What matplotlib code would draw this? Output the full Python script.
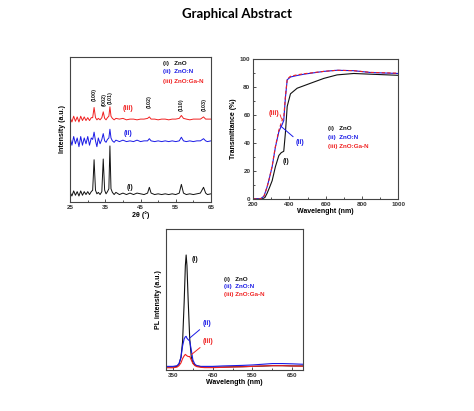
import matplotlib
matplotlib.use('Agg')
import matplotlib.pyplot as plt
from matplotlib.ticker import MultipleLocator

# XRD patterns (2theta, arbitrary offset intensity)
xrd_tt = [25, 25.5, 26, 26.5, 27, 27.5, 28, 28.5, 29, 29.5, 30, 30.5, 31,
          31.4, 31.8, 32.2, 32.6, 33,
          33.5, 34, 34.4, 34.8, 35.2, 35.6, 36, 36.3, 36.6, 37, 37.5, 38,
          39, 40, 41, 42, 43, 44, 45, 46, 47,
          47.5, 48,
          49, 50, 51, 52, 53, 54, 55, 56,
          56.6, 57.2,
          58, 59, 60, 61, 62,
          62.9, 63.5, 64, 65]
xrd_zno = [6.5, 4, 7.5, 4.5, 7, 4, 7.5, 4.5, 7, 5, 7, 5, 7,
           8, 29, 8, 5.5, 6.5,
           5, 7, 29.5, 8, 5.5, 7, 9, 38.5, 9, 6.5, 5, 6.5,
           5, 6, 5, 6, 5, 6, 5.5, 5, 6,
           10, 6,
           5, 5.5, 5, 5.5, 5, 5.5, 5, 6,
           12, 6,
           5, 5.5, 5, 5.5, 6,
           10, 6, 5, 5.5]
xrd_zno_n = [44, 39, 45, 40, 44, 38, 45, 39, 44, 40, 45, 39, 44,
             43, 48, 42, 38, 44,
             40, 43, 47, 42, 41, 43, 44, 50, 44, 42, 41, 42.5,
             41.5, 42.5, 41.5, 42, 41.5, 42.5, 41.5, 42, 42,
             43.5, 42,
             41.5, 42, 41.5, 42, 41.5, 42, 41.5, 42,
             44.5, 42,
             41.5, 42, 41.5, 42, 42,
             43.5, 42, 41.5, 42]
xrd_zno_gan = [58, 55, 59, 55.5, 58.5, 55, 59, 56, 58.5, 56, 58, 56, 58,
               58, 65, 58, 56.5, 57.5,
               56.5, 58, 62, 57.5, 56.5, 58, 59, 65.5, 59, 57.5, 56.5, 57.5,
               57, 57.5, 56.5, 57, 57, 56.5, 57, 57, 57.5,
               58.5, 57,
               57, 56.5, 57, 57, 56.5, 57, 57, 57.5,
               59.5, 57.5,
               57, 56.5, 57, 57, 57,
               58.5, 57, 57, 57]
hkl_labels = ['(100)', '(002)', '(101)', '(102)', '(110)', '(103)']
hkl_tt = [31.8, 34.6, 36.5, 47.5, 56.7, 63.0]
hkl_y = [74, 70.5, 72, 69, 67, 67]

# transmittance spectra
tr_wl_zno = [200, 250, 265, 277, 290, 305, 323, 342, 355, 369, 378, 388,
             406, 443, 516, 590, 663, 755, 847, 1000]
tr_zno = [0, 0, 1, 4, 8, 13, 23, 31, 33, 34, 47, 66,
          75, 79, 82.5, 86, 88.5, 89.5, 89, 88.2]
tr_wl = [200, 240, 260, 277, 290, 305, 323, 342, 352, 360, 369, 378, 388,
         406, 440, 480, 590, 663, 755, 847, 1000]
tr_zno_n = [0, 0, 2, 8.5, 15, 23, 37, 48, 51, 53, 56, 72, 85,
            87, 88, 89, 91, 91.8, 91.5, 90.2, 89.5]
tr_zno_gan = [0, 0, 2, 8.5, 15, 23.5, 37.5, 49, 53, 56, 58, 73, 85.5,
              87.5, 88.5, 89.3, 91, 91.8, 91.5, 90.3, 89.7]

# PL spectra
pl_wl = [332, 350, 360, 365, 370, 374, 378, 381, 383, 385, 388, 392, 396,
         400, 405, 410, 420, 430, 450, 475, 500, 525, 550, 575, 600, 625,
         650, 677]
pl_zno = [2, 2, 2.5, 4, 9, 20, 48, 74, 81.5, 74, 50, 22, 9,
          5, 3.5, 2.8, 2.3, 2, 2, 2, 2.2, 2.3, 2.5, 2.7, 3, 3,
          2.8, 2.8]
pl_zno_n = [2.5, 2.5, 3, 4.5, 9, 17, 22, 23.5, 23.8, 22.5, 21.5, 20.5, 14,
            7, 4, 3, 2.5, 2.5, 2.5, 2.8, 3, 3.2, 3.5, 4, 4.5, 4.5,
            4.3, 4]
pl_zno_gan = [1.5, 1.5, 2, 3, 5, 8, 10, 11, 10.5, 10, 9.5, 9.5, 7,
              4.5, 3, 2.3, 1.8, 1.6, 1.6, 1.8, 2, 2.2, 2.5, 2.8, 3, 3,
              2.8, 2.6]

legend_labels = ['(i)   ZnO', '(ii)  ZnO:N', '(iii) ZnO:Ga-N']
black = '#111111'
blue = '#1a1ae6'
red = '#f02020'
colors = [black, blue, red]

plt.rcParams['font.family'] = ['Liberation Sans', 'DejaVu Sans']
plt.rcParams['font.weight'] = 'bold'
plt.rcParams['axes.labelweight'] = 'bold'
plt.rcParams['axes.edgecolor'] = '#444444'
plt.rcParams['axes.linewidth'] = 0.8


def style(ax):
    ax.tick_params(which='both', direction='in', labelsize=4.5, width=0.6,
                   colors='#333333', pad=2)
    ax.tick_params(which='major', length=2.2)
    ax.tick_params(which='minor', length=1.2)


def legend_text(ax, x, ys):
    for lab, y, c in zip(legend_labels, ys, colors):
        ax.text(x, y, lab, color=c, fontsize=4.5, va='center')


fig = plt.figure(figsize=(4.74, 4.11), dpi=100)
fig.text(0.5, 0.965, 'Graphical Abstract', ha='center', va='center',
         fontsize=9.5, fontweight='bold', family='Lato')

# XRD
ax1 = fig.add_axes([0.148, 0.509, 0.297, 0.353])
ax1.plot(xrd_tt, xrd_zno, color=black, lw=0.7)
ax1.plot(xrd_tt, xrd_zno_n, color=blue, lw=0.7)
ax1.plot(xrd_tt, xrd_zno_gan, color=red, lw=0.7)
ax1.set_xlim(25, 65)
ax1.set_ylim(0, 100)
ax1.set_yticks([])
ax1.xaxis.set_major_locator(MultipleLocator(10, offset=5))
ax1.xaxis.set_minor_locator(MultipleLocator(5))
style(ax1)
ax1.set_xlabel('2θ (°)', fontsize=5, labelpad=1)
ax1.set_ylabel('Intensity (a.u.)', fontsize=5, labelpad=3)
for lab, x, y in zip(hkl_labels, hkl_tt, hkl_y):
    ax1.text(x, y, lab, rotation=90, fontsize=4, ha='center', va='center',
             color='#222222')
ax1.text(40.0, 63, '(iii)', color=red, fontsize=5)
ax1.text(40.3, 46, '(ii)', color=blue, fontsize=5)
ax1.text(41.0, 9, '(i)', color=black, fontsize=5)
legend_text(ax1, 51.4, [95, 89.7, 82.8])

# transmittance
ax2 = fig.add_axes([0.534, 0.516, 0.306, 0.341])
ax2.plot(tr_wl_zno, tr_zno, color=black, lw=0.8)
ax2.plot(tr_wl, tr_zno_n, color=blue, lw=0.8)
ax2.plot(tr_wl, tr_zno_gan, color=red, lw=0.8, ls=(0, (3, 2)))
ax2.set_xlim(200, 1000)
ax2.set_ylim(0, 100)
ax2.xaxis.set_major_locator(MultipleLocator(200))
ax2.xaxis.set_minor_locator(MultipleLocator(100))
ax2.yaxis.set_major_locator(MultipleLocator(20))
ax2.yaxis.set_minor_locator(MultipleLocator(10))
style(ax2)
ax2.set_xlabel('Wavelenght (nm)', fontsize=5, labelpad=1)
ax2.set_ylabel('Transmittance (%)', fontsize=5, labelpad=2)
ax2.text(287, 61, '(iii)', color=red, fontsize=5, va='center')
ax2.plot([349, 357], [60, 57], color=red, lw=0.6)
ax2.annotate('(ii)', xy=(352, 52), xytext=(436, 40), color=blue, fontsize=5,
             va='center',
             arrowprops=dict(arrowstyle='-', color=blue, lw=0.7,
                             shrinkA=0, shrinkB=0))
ax2.text(362, 27, '(i)', color=black, fontsize=5, va='center')
legend_text(ax2, 612, [50, 44, 37.7])

# PL
ax3 = fig.add_axes([0.350, 0.100, 0.289, 0.343])
ax3.plot(pl_wl, pl_zno, color=black, lw=0.8)
ax3.plot(pl_wl, pl_zno_n, color=blue, lw=0.8)
ax3.plot(pl_wl, pl_zno_gan, color=red, lw=0.8)
ax3.set_xlim(332, 677)
ax3.set_ylim(0, 100)
ax3.set_yticks([])
ax3.xaxis.set_major_locator(MultipleLocator(100, offset=50))
ax3.xaxis.set_minor_locator(MultipleLocator(50))
style(ax3)
ax3.set_xlabel('Wavelength (nm)', fontsize=5, labelpad=1)
ax3.set_ylabel('PL intensity (a.u.)', fontsize=5, labelpad=3)
ax3.text(396, 78, '(i)', color=black, fontsize=5, va='center')
ax3.annotate('(ii)', xy=(392, 22.6), xytext=(424, 32.8), color=blue,
             fontsize=5, va='center',
             arrowprops=dict(arrowstyle='-', color=blue, lw=0.7,
                             shrinkA=0, shrinkB=0))
ax3.annotate('(iii)', xy=(396, 10.8), xytext=(424, 20.3), color=red,
             fontsize=5, va='center',
             arrowprops=dict(arrowstyle='-', color=red, lw=0.7,
                             shrinkA=0, shrinkB=0))
legend_text(ax3, 479, [64.4, 59.2, 53.8])

fig.savefig('out.png', dpi=100)
